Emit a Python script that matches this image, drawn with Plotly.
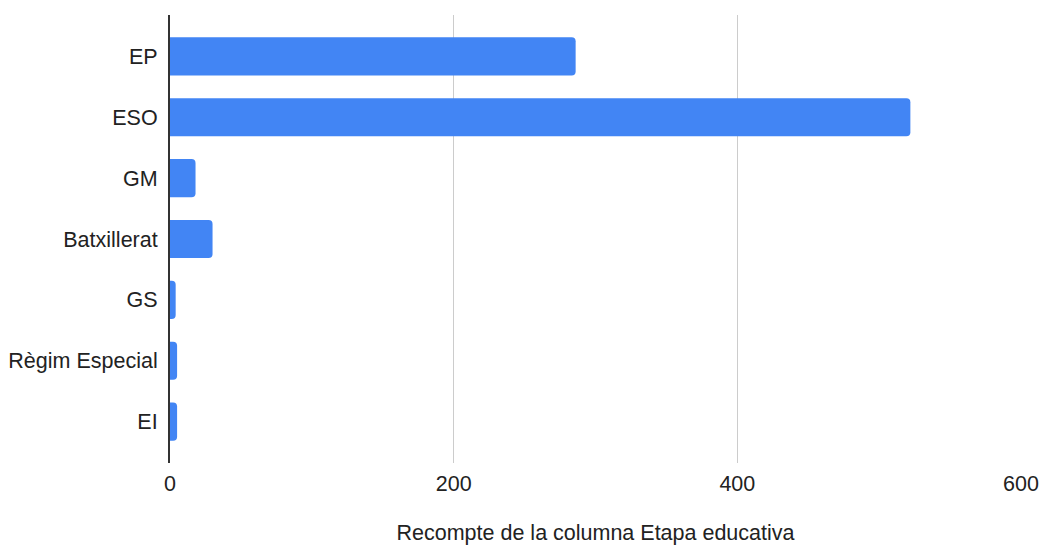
import plotly.graph_objects as go

categories = ["EP", "ESO", "GM", "Batxillerat", "GS", "Règim Especial", "EI"]
counts = [286, 522, 18, 30, 4, 5, 5]
x_ticks = [0, 200, 400, 600]
x_title = "Recompte de la columna Etapa educativa"

fig = go.Figure(go.Bar(
    x=counts, y=categories, orientation="h",
    marker=dict(color="#4285F4", cornerradius=4, line=dict(width=0)),
    width=0.625,
))

fig.update_layout(
    width=1043, height=545,
    margin=dict(l=170, r=22, t=15, b=82),
    paper_bgcolor="white", plot_bgcolor="white",
    font=dict(family="Liberation Sans, Arial, sans-serif", size=21.5, color="#222222"),
    showlegend=False,
    xaxis=dict(
        range=[0, 600], tickvals=x_ticks, ticktext=[str(v) for v in x_ticks],
        showgrid=True, gridcolor="#cccccc", gridwidth=1,
        zeroline=False, showline=False,
        ticklabelstandoff=5, automargin=False,
        title=dict(text=x_title, standoff=40, font=dict(size=21.5)),
    ),
    yaxis=dict(
        categoryorder="array", categoryarray=categories,
        range=[6.68, -0.68],
        showgrid=False, zeroline=False,
        showline=True, linecolor="#333333", linewidth=2,
        ticklabelstandoff=6, automargin=False,
    ),
)

fig.write_html(
    "out.html",
    config={"displayModeBar": False},
    post_script="document.body.style.margin='0';document.body.style.overflow='hidden';",
)
